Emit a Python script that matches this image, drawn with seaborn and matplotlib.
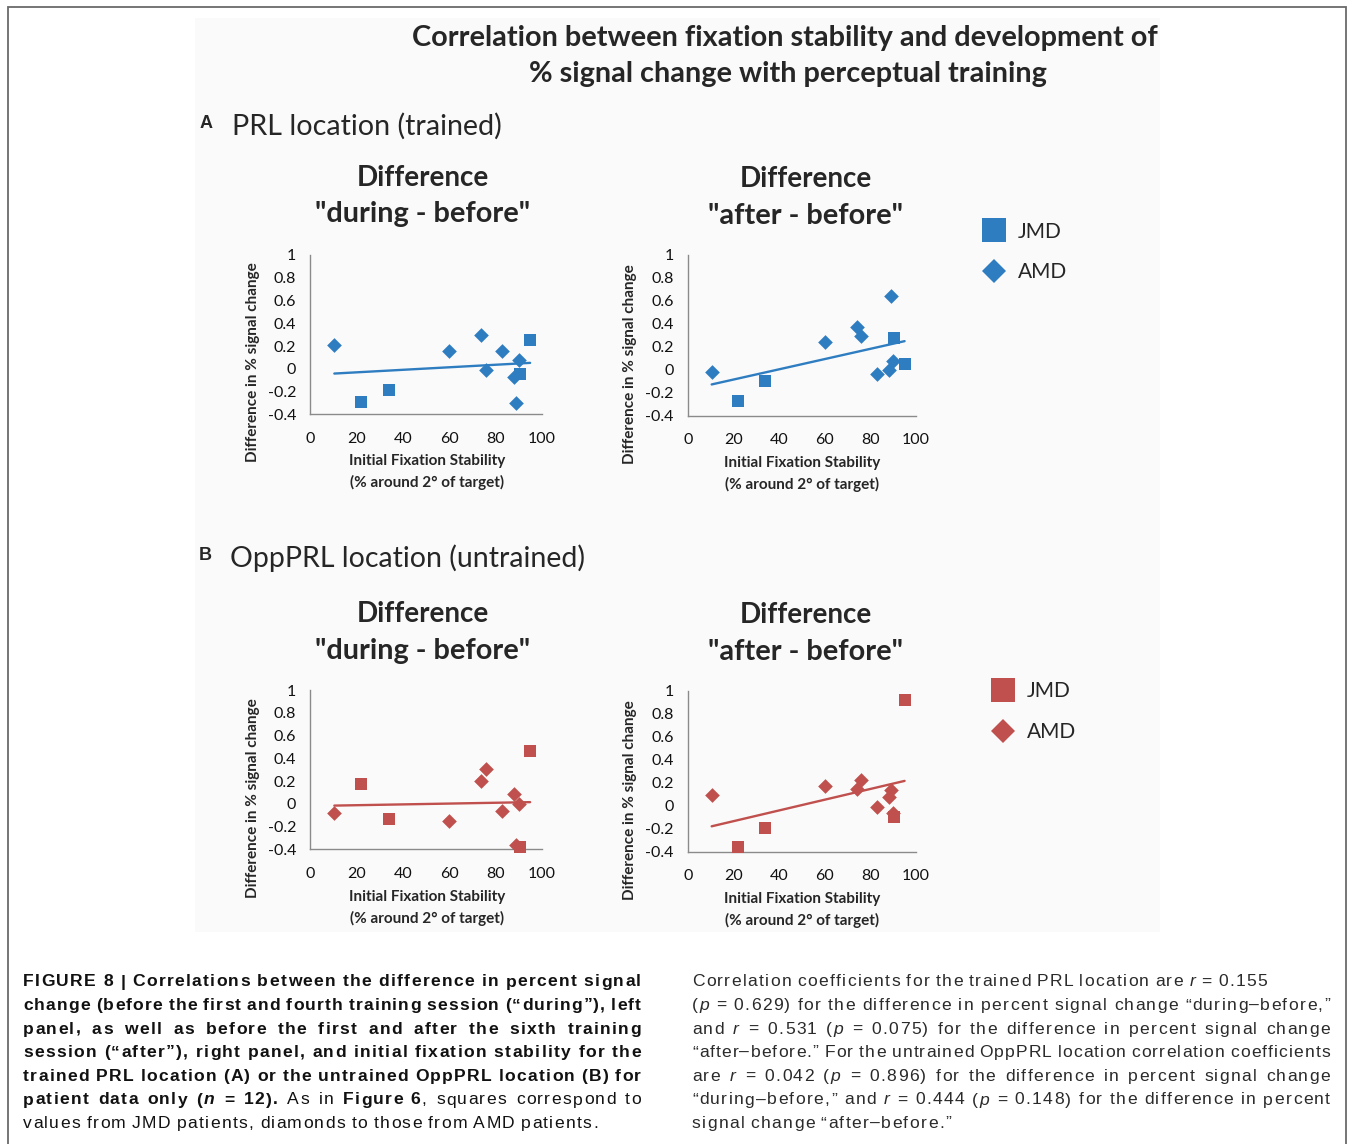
import numpy as np
import pandas as pd
import matplotlib
matplotlib.use("Agg")
import matplotlib.pyplot as plt
from matplotlib import font_manager
from matplotlib.lines import Line2D
from matplotlib.patches import Rectangle
import seaborn as sns

W, H, DPI = 1350, 1144, 100

# ---- data ---------------------------------------------------------------
group = ["AMD", "JMD", "JMD", "AMD", "AMD", "AMD", "AMD", "AMD", "AMD", "AMD", "JMD", "JMD"]
fixation = [10.5, 22, 34, 60, 74, 76, 83, 88, 89, 90, 90.5, 95]

prl_during = [0.21, -0.29, -0.19, 0.16, 0.30, -0.01, 0.16, -0.07, -0.30, 0.08, -0.045, 0.255]
prl_after = [-0.02, -0.27, -0.10, 0.24, 0.37, 0.29, -0.035, 0.0, 0.645, 0.08, 0.28, 0.05]
opp_during = [-0.08, 0.17, -0.135, -0.155, 0.20, 0.31, -0.06, 0.085, -0.36, 0.0, -0.38, 0.46]
opp_after = [0.095, -0.355, -0.19, 0.175, 0.145, 0.22, -0.015, 0.075, 0.14, -0.06, -0.095, 0.92]

y_ticks = [-0.4, -0.2, 0, 0.2, 0.4, 0.6, 0.8, 1]
y_tick_labels = ["-0.4", "-0.2", "0", "0.2", "0.4", "0.6", "0.8", "1"]
x_ticks = [0, 20, 40, 60, 80, 100]
x_tick_labels = ["0", "20", "40", "60", "80", "100"]

legend_labels = ["JMD", "AMD"]
BLUE = "#2f7dc1"
RED = "#c0504d"

sns.set_style("white")


def has_font(name):
    try:
        font_manager.findfont(font_manager.FontProperties(family=name),
                              fallback_to_default=False)
        return True
    except Exception:
        return False


CHART_FONT = "Lato" if has_font("Lato") else "DejaVu Sans"
CAPTION_FONT = "Liberation Sans" if has_font("Liberation Sans") else "DejaVu Sans"
plt.rcParams["font.family"] = [CHART_FONT, "DejaVu Sans"]

fig = plt.figure(figsize=(W / DPI, H / DPI), dpi=DPI)
fig.patch.set_facecolor("white")
renderer = fig.canvas.get_renderer()


def fx(x):
    return x / W


def fy(y):
    return 1 - y / H


def ftext(x, y, s, **kw):
    return fig.text(fx(x), fy(y), s, **kw)


def fit_width(t, width):
    w = t.get_window_extent(renderer).width
    t.set_fontsize(t.get_fontsize() * width / w)
    return t


# page frame and soft chart background
fig.add_artist(Rectangle((fx(8), fy(1170)), fx(1346) - fx(8), fy(7) - fy(1170),
                         transform=fig.transFigure, fill=False, ec="#6a6a6a", lw=1.3))
fig.add_artist(Rectangle((fx(195), fy(932)), fx(1160) - fx(195), fy(18) - fy(932),
                         transform=fig.transFigure, fc="#fafafa", ec="none", zorder=-5))

# ---- headings -----------------------------------------------------------
t = ftext(785, 38, "Correlation between fixation stability and development of",
          ha="center", va="center", fontsize=22, fontweight="bold")
fit_width(t, 744)
t = ftext(788, 74, "% signal change with perceptual training",
          ha="center", va="center", fontsize=22, fontweight="bold")
fit_width(t, 517)

ftext(200, 124, "A", ha="left", va="center", fontsize=13, fontweight="bold",
      family=CAPTION_FONT)
t = ftext(232, 126, "PRL location (trained)", ha="left", va="center", fontsize=18)
fit_width(t, 268)
ftext(199, 556, "B", ha="left", va="center", fontsize=13, fontweight="bold",
      family=CAPTION_FONT)
t = ftext(230, 558, "OppPRL location (untrained)", ha="left", va="center", fontsize=18)
fit_width(t, 354)

# ---- panels -------------------------------------------------------------
panels = [
    dict(vals=prl_during, color=BLUE, box=(310, 255, 541.7, 414.3),
         title=("Difference", '"during - before"'), tx=423, ty=(178, 214),
         xl=(427, 472), yl=(253, 362)),
    dict(vals=prl_after, color=BLUE, box=(687.7, 255, 916, 415.7),
         title=("Difference", '"after - before"'), tx=806, ty=(179, 216),
         xl=(802, 474), yl=(630, 364)),
    dict(vals=opp_during, color=RED, box=(310, 690, 541.7, 849.3),
         title=("Difference", '"during - before"'), tx=423, ty=(614, 651),
         xl=(427, 908), yl=(253, 798)),
    dict(vals=opp_after, color=RED, box=(687.7, 690.7, 916, 851.7),
         title=("Difference", '"after - before"'), tx=806, ty=(615, 652),
         xl=(802, 910), yl=(630, 800)),
]

title_widths = {"Difference": 132, '"during - before"': 216, '"after - before"': 195}

for p in panels:
    l, tp, r, b = p["box"]
    ax = fig.add_axes([fx(l), fy(b), fx(r) - fx(l), fy(tp) - fy(b)])
    ax.set_facecolor("none")
    df = pd.DataFrame({"fixation": fixation, "value": p["vals"], "group": group})

    sns.regplot(data=df, x="fixation", y="value", scatter=False, ci=None,
                truncate=True, color=p["color"], line_kws=dict(lw=1.7), ax=ax)
    sns.scatterplot(data=df[df["group"] == "AMD"], x="fixation", y="value",
                    marker="D", s=56, color=p["color"], linewidth=0,
                    clip_on=False, zorder=3, ax=ax, legend=False)
    sns.scatterplot(data=df[df["group"] == "JMD"], x="fixation", y="value",
                    marker="s", s=85, color=p["color"], linewidth=0,
                    clip_on=False, zorder=3, ax=ax, legend=False)

    ax.set_xlim(0, 100)
    ax.set_ylim(-0.4, 1)
    ax.set_xticks(x_ticks)
    ax.set_xticklabels(x_tick_labels)
    ax.set_yticks(y_ticks)
    ax.set_yticklabels(y_tick_labels)
    for side in ("top", "right"):
        ax.spines[side].set_visible(False)
    for side in ("left", "bottom"):
        ax.spines[side].set_color("#8a8a8a")
        ax.spines[side].set_linewidth(1.0)
    ax.tick_params(axis="both", direction="out", length=3.5, width=0.8,
                   color="#8a8a8a", labelsize=11.5, labelcolor="#111111")
    ax.tick_params(axis="y", pad=6.5)
    ax.tick_params(axis="x", pad=9)

    ax.set_xlabel("Initial Fixation Stability\n(% around 2° of target)",
                  fontsize=11, fontweight="bold", linespacing=1.55)
    ax.xaxis.label.set_va("center")
    ax.xaxis.set_label_coords((p["xl"][0] - l) / (r - l), (b - p["xl"][1]) / (b - tp))
    ax.set_ylabel("Difference in % signal change", fontsize=11, fontweight="bold")
    ax.yaxis.label.set_va("center")
    ax.yaxis.set_label_coords((p["yl"][0] - l) / (r - l), (b - p["yl"][1]) / (b - tp))

    for line_txt, yy in zip(p["title"], p["ty"]):
        t = ftext(p["tx"], yy, line_txt, ha="center", va="center", fontsize=20,
                  fontweight="bold")
        fit_width(t, title_widths[line_txt])

# ---- legends ------------------------------------------------------------
for color, left, cy in ((BLUE, 981.5, 252), (RED, 990.5, 711.5)):
    handles = [
        Line2D([], [], ls="none", marker="s", markersize=17, color=color, mew=0),
        Line2D([], [], ls="none", marker="D", markersize=12.5, color=color, mew=0),
    ]
    fig.legend(handles, legend_labels, loc="center left",
               bbox_to_anchor=(fx(left), fy(cy)), frameon=False, fontsize=15,
               handlelength=1.2, handletextpad=0.55, labelspacing=1.0,
               borderpad=0, borderaxespad=0)

# ---- caption ------------------------------------------------------------
STYLES = {"b": ("bold", "normal"), "r": ("normal", "normal"),
          "bi": ("bold", "italic"), "i": ("normal", "italic")}
CAP_SIZE = 12.6
TRACKING = 1.35  # extra pixels between letters


def words_from_runs(runs):
    words = [[]]
    for text, style in runs:
        parts = text.split(" ")
        for i, part in enumerate(parts):
            if i > 0:
                words.append([])
            if part:
                words[-1].append((part, style))
    return [w for w in words if w]


def space_width():
    a = fig.text(0, 0, "a a", fontsize=CAP_SIZE, family=CAPTION_FONT)
    b_ = fig.text(0, 0, "aa", fontsize=CAP_SIZE, family=CAPTION_FONT)
    w = a.get_window_extent(renderer).width - b_.get_window_extent(renderer).width
    a.remove()
    b_.remove()
    return w


SPACE = space_width()
_char_widths = {}


def char_width(ch, st):
    key = (ch, st)
    if key not in _char_widths:
        weight, style = STYLES[st]
        t = fig.text(0, 0, "|" + ch + "|", fontsize=CAP_SIZE, family=CAPTION_FONT,
                     fontweight=weight, fontstyle=style)
        t2 = fig.text(0, 0, "||", fontsize=CAP_SIZE, family=CAPTION_FONT,
                      fontweight=weight, fontstyle=style)
        _char_widths[key] = (t.get_window_extent(renderer).width
                             - t2.get_window_extent(renderer).width)
        t.remove()
        t2.remove()
    return _char_widths[key]


def draw_line(runs, x0, y, x1=None, color="#111111"):
    words = words_from_runs(runs)
    layout = []
    for word in words:
        chars = []
        for txt, st in word:
            for ch in txt:
                chars.append((ch, st, char_width(ch, st)))
        layout.append(chars)
    glyphs = sum(c[2] for chars in layout for c in chars)
    n_inner = sum(len(chars) - 1 for chars in layout)
    n_gaps = len(layout) - 1
    track = TRACKING
    gap = SPACE + track
    if x1 is not None and n_gaps > 0:
        gap = (x1 - x0 - glyphs - track * n_inner) / n_gaps
        if gap < SPACE + track:
            # tighten the letter spacing so word gaps stay at a natural width
            track = (x1 - x0 - glyphs - SPACE * n_gaps) / (n_inner + n_gaps)
            gap = SPACE + track
    x = x0
    for chars in layout:
        for ch, st, w in chars:
            weight, style = STYLES[st]
            fig.text(fx(x), fy(y), ch, fontsize=CAP_SIZE, family=CAPTION_FONT,
                     fontweight=weight, fontstyle=style, va="baseline", ha="left",
                     color=color)
            x += w + track
        x += gap - track


left_lines = [
    [("FIGURE\u00a08\u00a0| Correlations between the difference in percent signal", "b")],
    [("change (before the first and fourth training session (\u201cduring\u201d), left", "b")],
    [("panel, as well as before the first and after the sixth training", "b")],
    [("session (\u201cafter\u201d), right panel, and initial fixation stability for the", "b")],
    [("trained PRL location (A) or the untrained OppPRL location (B) for", "b")],
    [("patient data only (", "b"), ("n", "bi"), (" = 12).", "b"), (" As in ", "r"),
     ("Figure\u00a06", "b"), (", squares correspond to", "r")],
    [("values from JMD patients, diamonds to those from AMD patients.", "r")],
]
right_lines = [
    [("Correlation coefficients for the trained PRL location are ", "r"), ("r", "i"),
     (" = 0.155", "r")],
    [("(", "r"), ("p", "i"),
     (" = 0.629) for the difference in percent signal change \u201cduring\u2013before,\u201d", "r")],
    [("and ", "r"), ("r", "i"), (" = 0.531 (", "r"), ("p", "i"),
     (" = 0.075) for the difference in percent signal change", "r")],
    [("\u201cafter\u2013before.\u201d For the untrained OppPRL location correlation coefficients", "r")],
    [("are ", "r"), ("r", "i"), (" = 0.042 (", "r"), ("p", "i"),
     (" = 0.896) for the difference in percent signal change", "r")],
    [("\u201cduring\u2013before,\u201d and ", "r"), ("r", "i"), (" = 0.444 (", "r"), ("p", "i"),
     (" = 0.148) for the difference in percent", "r")],
    [("signal change \u201cafter\u2013before.\u201d", "r")],
]

for i, runs in enumerate(left_lines):
    last = i == len(left_lines) - 1
    draw_line(runs, 23, 986.5 + 23.6 * i, None if last else 641, color="#111111")

for i, runs in enumerate(right_lines):
    natural = i in (0, len(right_lines) - 1)
    draw_line(runs, 692, 986.5 + 23.6 * i, None if natural else 1330, color="#2a2a2a")

fig.savefig("out.png", dpi=DPI, facecolor="white")
